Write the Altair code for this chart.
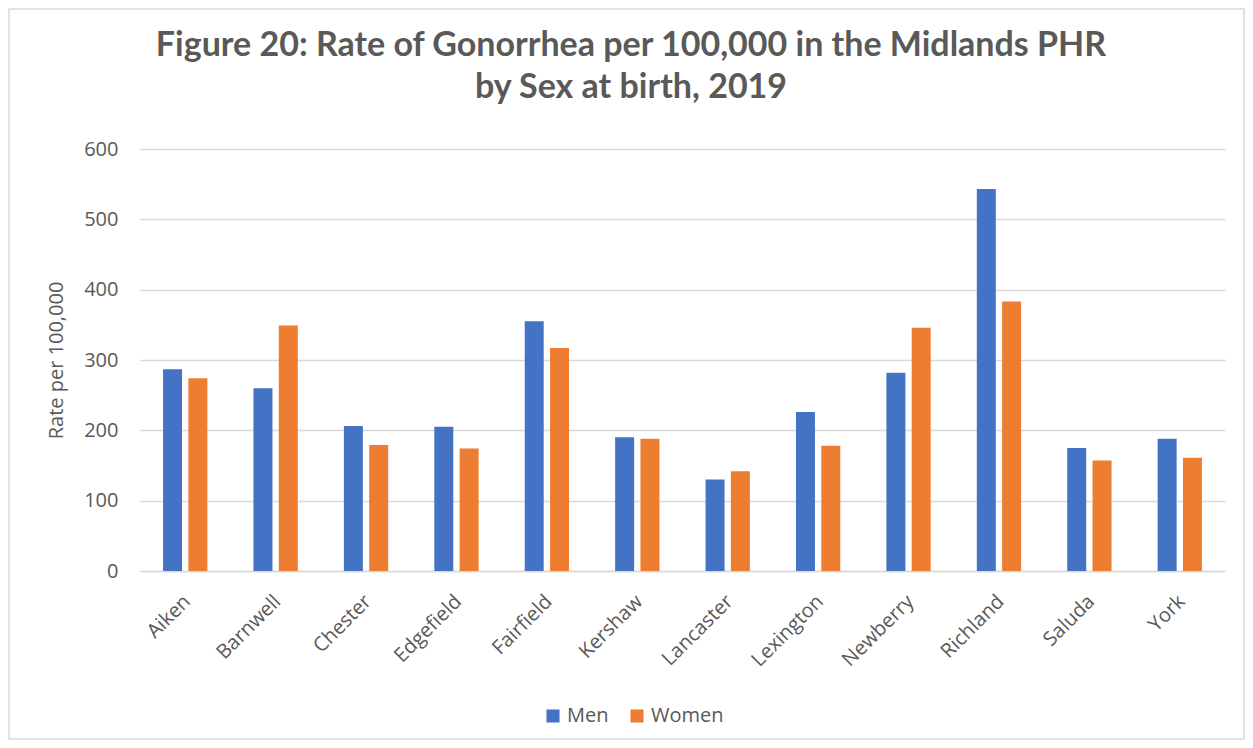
import altair as alt
import pandas as pd

counties = ["Aiken", "Barnwell", "Chester", "Edgefield", "Fairfield", "Kershaw",
            "Lancaster", "Lexington", "Newberry", "Richland", "Saluda", "York"]
men = [287, 260, 206, 205, 355, 190, 130, 226, 282, 543, 175, 188]
women = [274, 349, 179, 174, 317, 188, 142, 178, 346, 383, 157, 161]
series = ["Men", "Women"]
colors = ["#4472C4", "#ED7D31"]
y_ticks = [0, 100, 200, 300, 400, 500, 600]
title_lines = ["Figure 20: Rate of Gonorrhea per 100,000 in the Midlands PHR",
               "by Sex at birth, 2019"]

rows = []
for c, m, w in zip(counties, men, women):
    rows.append({"County": c, "Sex": "Men", "Rate": m})
    rows.append({"County": c, "Sex": "Women", "Rate": w})
df = pd.DataFrame(rows)

FONT = "Open Sans"
GREY = "#595959"
W, H = 1085, 422

bars = alt.Chart(df).mark_bar().encode(
    x=alt.X("County:N", sort=counties,
            scale=alt.Scale(paddingInner=0.51, paddingOuter=0.255),
            axis=alt.Axis(title=None, labelAngle=-45, labelAlign="right", labelBaseline="top",
                          labelFontSize=20, labelColor=GREY, labelFont=FONT,
                          ticks=False, domainColor="#d9d9d9", domainWidth=1.5, labelPadding=20,
                          labelOffset=-5)),
    xOffset=alt.XOffset("Sex:N", sort=series, scale=alt.Scale(paddingInner=0.25)),
    y=alt.Y("Rate:Q", scale=alt.Scale(domain=[0, 600], nice=False),
            axis=alt.Axis(title="Rate per 100,000", values=y_ticks, titleFontSize=20,
                          titleFont=FONT, titleColor=GREY, titleFontWeight="normal",
                          titlePadding=17, labelFontSize=20, labelFont=FONT, labelColor=GREY,
                          ticks=False, domain=False, gridColor="#d9d9d9", gridWidth=1.5,
                          labelPadding=22)),
    color=alt.Color("Sex:N", sort=series, scale=alt.Scale(domain=series, range=colors),
                    legend=alt.Legend(title=None, orient="none", legendX=403, legendY=557,
                                      direction="horizontal", symbolType="square",
                                      symbolSize=170, symbolStrokeWidth=0,
                                      labelFontSize=20, labelFont=FONT, labelColor=GREY,
                                      columnPadding=18, labelOffset=4)),
)

one = pd.DataFrame({"a": [0]})

border = alt.Chart(one).mark_rect(
    fillOpacity=0, stroke="#d9d9d9", strokeWidth=1.5
).encode(x=alt.value(-131), x2=alt.value(W + 19), y=alt.value(-140), y2=alt.value(590))

title1 = alt.Chart(pd.DataFrame({"t": [title_lines[0]]})).mark_text(
    font="Lato", fontSize=34, fontWeight="bold", color=GREY, align="center", baseline="alphabetic"
).encode(text="t:N", x=alt.value(491), y=alt.value(-93))

title2 = alt.Chart(pd.DataFrame({"t": [title_lines[1]]})).mark_text(
    font="Lato", fontSize=34, fontWeight="bold", color=GREY, align="center", baseline="alphabetic"
).encode(text="t:N", x=alt.value(491), y=alt.value(-51))

chart = alt.layer(border, title1, title2, bars).properties(
    width=W, height=H,
    autosize=alt.AutoSizeParams(type="none"),
    padding={"left": 132, "top": 141, "right": 20, "bottom": 169},
).configure_view(stroke=None)

chart.save("out.html", embed_options={"renderer": "svg", "actions": False})
